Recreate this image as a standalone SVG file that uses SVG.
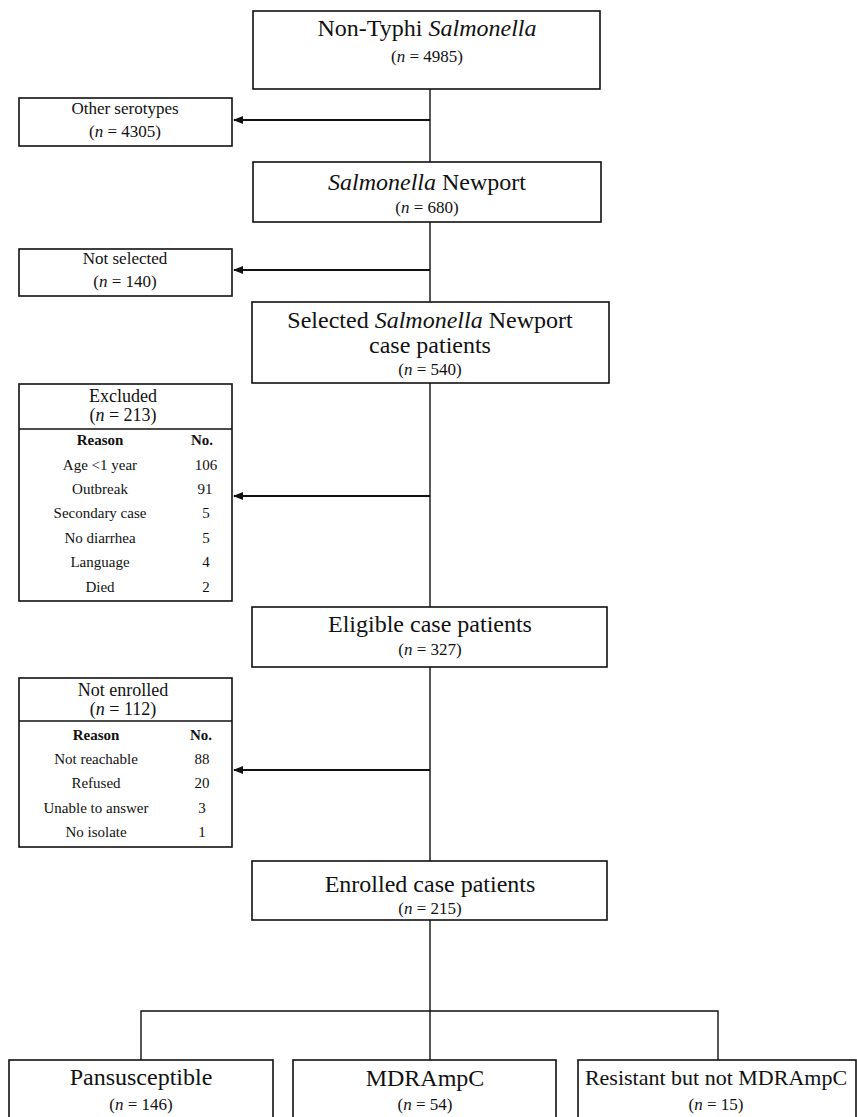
<svg xmlns="http://www.w3.org/2000/svg" width="857" height="1117" viewBox="0 0 857 1117">
<style>
.box{fill:#fff;stroke:#111;stroke-width:1.6}
.ln{fill:none;stroke:#111;stroke-width:1.4}
.arr{fill:none;stroke:#111;stroke-width:2}
text{font-family:"Liberation Serif","Times New Roman",serif;fill:#111;text-anchor:middle}
.t{font-size:24px}
.n{font-size:17px}
.s{font-size:17px}
.h{font-size:18px}
.r{font-size:15px}
.b{font-size:15px;font-weight:bold}
</style>
<defs>
<marker id="ah" markerWidth="10" markerHeight="8" refX="9" refY="4" orient="auto" markerUnits="userSpaceOnUse">
<path d="M0,0 L10,4 L0,8 Z" fill="#111"/>
</marker>
</defs>
<rect width="857" height="1117" fill="#fff"/>
<g id="connectors">
<line class="ln" x1="430" y1="89" x2="430" y2="163"/>
<line class="arr" x1="430" y1="120" x2="234" y2="120" marker-end="url(#ah)"/>
<line class="ln" x1="430" y1="222" x2="430" y2="302"/>
<line class="arr" x1="430" y1="270" x2="234" y2="270" marker-end="url(#ah)"/>
<line class="ln" x1="430" y1="383" x2="430" y2="607"/>
<line class="arr" x1="430" y1="496" x2="234" y2="496" marker-end="url(#ah)"/>
<line class="ln" x1="430" y1="667" x2="430" y2="861"/>
<line class="arr" x1="430" y1="770" x2="234" y2="770" marker-end="url(#ah)"/>
<line class="ln" x1="430" y1="920" x2="430" y2="1060"/>
<polyline class="ln" points="141,1060 141,1011 718,1011 718,1060"/>
</g>
<g id="n1">
<rect class="box" x="253" y="11" width="347" height="78"/>
<text class="t" x="427" y="36">Non-Typhi <tspan font-style="italic">Salmonella</tspan></text>
<text class="n" x="427" y="62">(<tspan font-style="italic">n</tspan> = 4985)</text>
</g>
<g id="n2">
<rect class="box" x="19" y="98" width="213" height="48"/>
<text class="s" x="125" y="114">Other serotypes</text>
<text class="s" x="125" y="137">(<tspan font-style="italic">n</tspan> = 4305)</text>
</g>
<g id="n3">
<rect class="box" x="253" y="162" width="348" height="60"/>
<text class="t" x="427" y="190"><tspan font-style="italic">Salmonella</tspan> Newport</text>
<text class="n" x="427" y="213">(<tspan font-style="italic">n</tspan> = 680)</text>
</g>
<g id="n4">
<rect class="box" x="19" y="249" width="213" height="47"/>
<text class="s" x="125" y="264">Not selected</text>
<text class="s" x="125" y="287">(<tspan font-style="italic">n</tspan> = 140)</text>
</g>
<g id="n5">
<rect class="box" x="252" y="302" width="357" height="81"/>
<text class="t" x="430" y="328">Selected <tspan font-style="italic">Salmonella</tspan> Newport</text>
<text class="t" x="430" y="353">case patients</text>
<text class="n" x="430" y="375">(<tspan font-style="italic">n</tspan> = 540)</text>
</g>
<g id="n6">
<rect class="box" x="19" y="384" width="213" height="217"/>
<line class="ln" x1="19" y1="429" x2="232" y2="429"/>
<text class="h" x="123" y="402">Excluded</text>
<text class="h" x="123" y="421">(<tspan font-style="italic">n</tspan> = 213)</text>
<text class="b" x="100" y="445">Reason</text>
<text class="b" x="202" y="445">No.</text>
<text class="r" x="100" y="470">Age &lt;1 year</text><text class="r" x="206" y="470">106</text>
<text class="r" x="100" y="494">Outbreak</text><text class="r" x="205" y="494">91</text>
<text class="r" x="100" y="518">Secondary case</text><text class="r" x="206" y="518">5</text>
<text class="r" x="100" y="543">No diarrhea</text><text class="r" x="206" y="543">5</text>
<text class="r" x="100" y="567">Language</text><text class="r" x="206" y="567">4</text>
<text class="r" x="100" y="592">Died</text><text class="r" x="206" y="592">2</text>
</g>
<g id="n7">
<rect class="box" x="252" y="607" width="355" height="60"/>
<text class="t" x="430" y="632">Eligible case patients</text>
<text class="n" x="430" y="655">(<tspan font-style="italic">n</tspan> = 327)</text>
</g>
<g id="n8">
<rect class="box" x="19" y="678" width="213" height="169"/>
<line class="ln" x1="19" y1="721" x2="232" y2="721"/>
<text class="h" x="123" y="696">Not enrolled</text>
<text class="h" x="123" y="715">(<tspan font-style="italic">n</tspan> = 112)</text>
<text class="b" x="96" y="740">Reason</text>
<text class="b" x="201" y="740">No.</text>
<text class="r" x="96" y="764">Not reachable</text><text class="r" x="202" y="764">88</text>
<text class="r" x="96" y="788">Refused</text><text class="r" x="202" y="788">20</text>
<text class="r" x="96" y="813">Unable to answer</text><text class="r" x="202" y="813">3</text>
<text class="r" x="96" y="837">No isolate</text><text class="r" x="202" y="837">1</text>
</g>
<g id="n9">
<rect class="box" x="252" y="861" width="355" height="59"/>
<text class="t" x="430" y="892">Enrolled case patients</text>
<text class="n" x="430" y="914">(<tspan font-style="italic">n</tspan> = 215)</text>
</g>
<g id="n10">
<rect class="box" x="9" y="1060" width="264" height="70"/>
<text class="t" x="141" y="1085">Pansusceptible</text>
<text class="n" x="141" y="1110">(<tspan font-style="italic">n</tspan> = 146)</text>
</g>
<g id="n11">
<rect class="box" x="293" y="1060" width="263" height="70"/>
<text class="t" x="425" y="1086">MDRAmpC</text>
<text class="n" x="425" y="1110">(<tspan font-style="italic">n</tspan> = 54)</text>
</g>
<g id="n12">
<rect class="box" x="578" y="1060" width="278" height="70"/>
<text x="716" y="1085" font-size="22">Resistant but not MDRAmpC</text>
<text class="n" x="716" y="1110">(<tspan font-style="italic">n</tspan> = 15)</text>
</g>
</svg>
